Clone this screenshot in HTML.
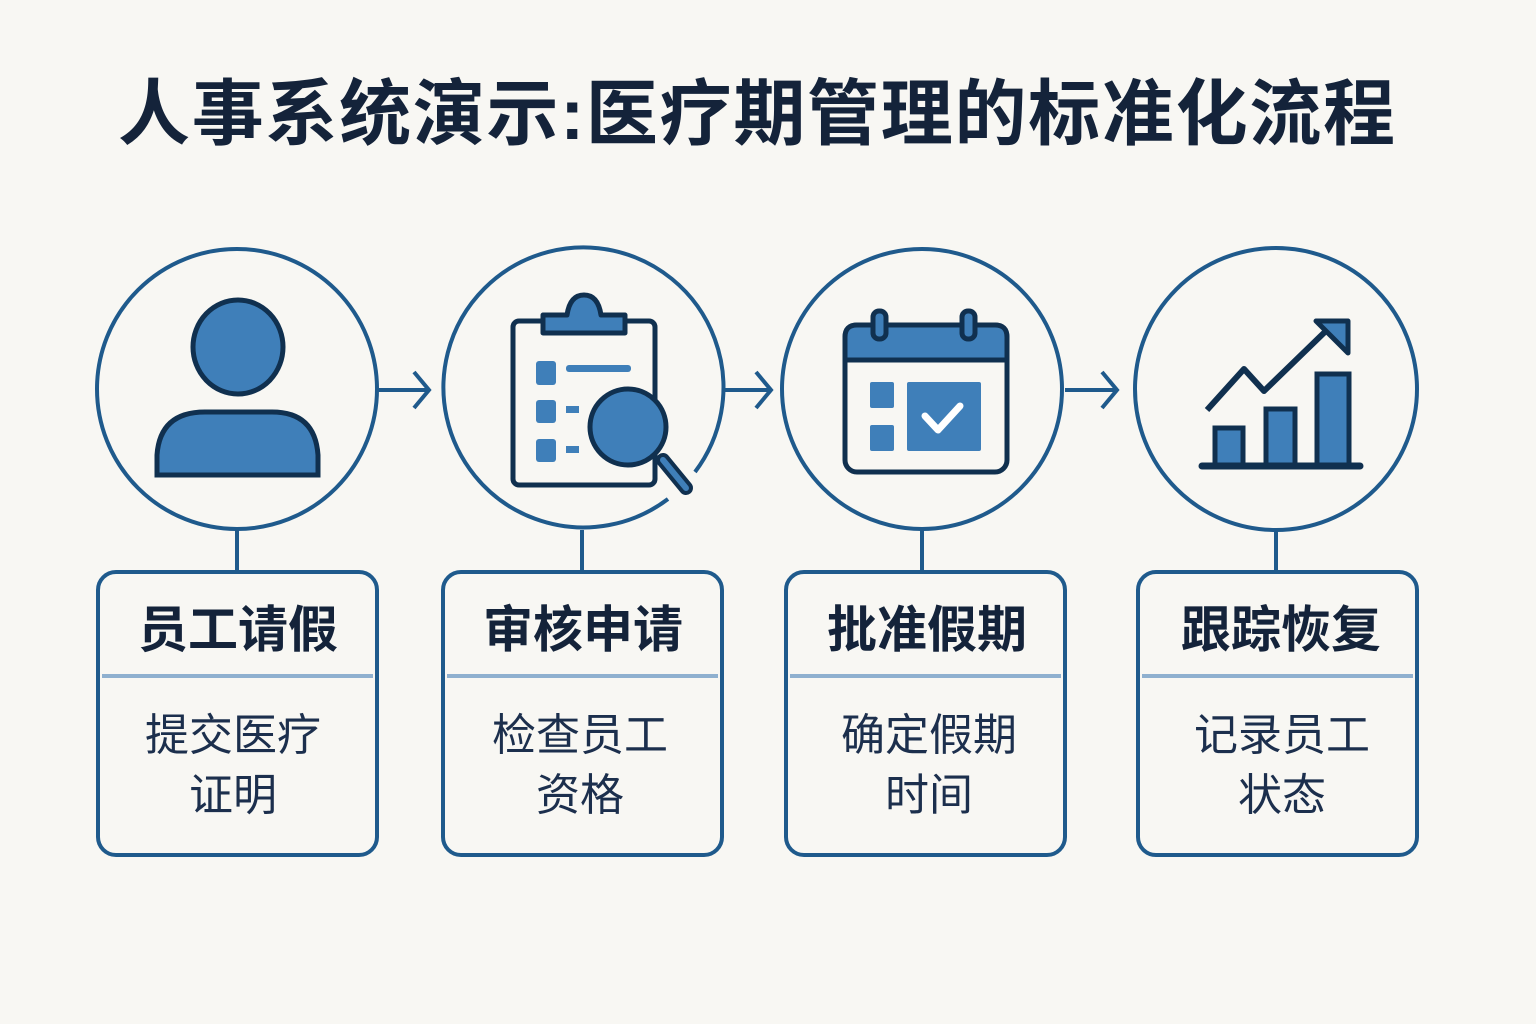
<!DOCTYPE html>
<html><head><meta charset="utf-8"><style>
html,body{margin:0;padding:0;background:#f8f7f3;}
svg{display:block;}
text{font-family:"Liberation Sans","Noto Sans CJK SC",sans-serif;}
</style></head><body>
<svg width="1536" height="1024" viewBox="0 0 1536 1024" xmlns="http://www.w3.org/2000/svg">
<rect width="1536" height="1024" fill="#f8f7f3"/>
<text x="118" y="139" font-size="72" font-weight="bold" fill="#14233a" textLength="1277" lengthAdjust="spacing">人事系统演示:医疗期管理的标准化流程</text>

<g fill="none" stroke="#1f5a8c" stroke-width="4">
<circle cx="237" cy="389" r="140"/>
<path d="M668 499 A140 140 0 1 1 695 472"/>
<circle cx="922" cy="389" r="140"/>
<circle cx="1276" cy="389" r="141"/>
<line x1="237" y1="530" x2="237" y2="572"/>
<line x1="582" y1="530" x2="582" y2="572"/>
<line x1="922" y1="530" x2="922" y2="572"/>
<line x1="1276" y1="530" x2="1276" y2="572"/>
<path d="M378 390 H428 M414 372 L429 390 L414 408"/>
<path d="M722 390 H770 M756 372 L771 390 L756 408"/>
<path d="M1065 390 H1116 M1102 372 L1117 390 L1102 408"/>
</g>

<!-- person -->
<g fill="#3f7fb9" stroke="#10304f" stroke-width="5">
<ellipse cx="238" cy="347" rx="45" ry="47"/>
<path d="M157 475 V455 Q160 412 205 412 H272 Q315 412 318 455 V475 Z"/>
</g>

<!-- clipboard -->
<g stroke="#10304f" stroke-width="5" stroke-linejoin="round">
<rect x="513" y="321" width="142" height="164" rx="6" fill="#f8f7f3"/>
<path d="M543 333 V315 H567 Q570 295 584 295 Q598 295 601 315 H625 V333 Z" fill="#3f7fb9"/>
</g>
<g fill="#3f7fb9">
<rect x="536" y="361" width="20" height="24" rx="3"/>
<rect x="536" y="400" width="20" height="23" rx="3"/>
<rect x="536" y="439" width="20" height="23" rx="3"/>
<rect x="566" y="365" width="65" height="7" rx="3"/>
<rect x="566" y="406" width="13" height="7"/>
<rect x="566" y="446" width="13" height="7"/>
</g>
<g stroke="#10304f" stroke-width="5">
<line x1="663" y1="460" x2="686" y2="488" stroke-width="14" stroke-linecap="round"/>
<line x1="663" y1="460" x2="686" y2="488" stroke="#3f7fb9" stroke-width="6" stroke-linecap="round"/>
<circle cx="628" cy="427" r="38" fill="#3f7fb9"/>
</g>

<!-- calendar -->
<g stroke="#10304f" stroke-width="5">
<rect x="845" y="325" width="162" height="147" rx="12" fill="#f8f7f3"/>
<path d="M845 360 V337 Q845 325 857 325 H995 Q1007 325 1007 337 V360 Z" fill="#3f7fb9"/>
<rect x="873" y="311" width="13" height="28" rx="6" fill="#3f7fb9"/>
<rect x="962" y="311" width="13" height="28" rx="6" fill="#3f7fb9"/>
</g>
<g fill="#3f7fb9">
<rect x="870" y="382" width="24" height="26" rx="2"/>
<rect x="870" y="425" width="24" height="26" rx="2"/>
<rect x="907" y="382" width="74" height="69" rx="2"/>
</g>
<path d="M925 416 L938 430 L960 406" fill="none" stroke="#fff" stroke-width="7" stroke-linecap="round" stroke-linejoin="round"/>

<!-- chart -->
<g stroke="#10304f" stroke-width="5" fill="#3f7fb9">
<rect x="1215" y="428" width="28" height="38"/>
<rect x="1266" y="409" width="29" height="57"/>
<rect x="1317" y="374" width="32" height="92"/>
<line x1="1202" y1="466" x2="1360" y2="466" stroke-width="7" stroke-linecap="round"/>
<polyline points="1207,410 1244,369 1264,391 1330,327" fill="none" stroke-width="6" stroke-linejoin="round"/>
<path d="M1316 321 H1348 V353 Z" stroke-linejoin="round"/>
</g>

<!-- boxes -->
<g fill="none" stroke="#1f5a8c" stroke-width="4">
<rect x="98" y="572" width="279" height="283" rx="18"/>
<rect x="443" y="572" width="279" height="283" rx="18"/>
<rect x="786" y="572" width="279" height="283" rx="18"/>
<rect x="1138" y="572" width="279" height="283" rx="18"/>
</g>
<g stroke="#8fb0cf" stroke-width="4">
<line x1="102" y1="676" x2="373" y2="676"/>
<line x1="447" y1="676" x2="718" y2="676"/>
<line x1="790" y1="676" x2="1061" y2="676"/>
<line x1="1142" y1="676" x2="1413" y2="676"/>
</g>
<g font-size="50" font-weight="bold" fill="#14233a" text-anchor="middle">
<text x="238" y="647">员工请假</text>
<text x="583" y="647">审核申请</text>
<text x="927" y="647">批准假期</text>
<text x="1281" y="647">跟踪恢复</text>
</g>
<g font-size="44" fill="#1c2f4d" text-anchor="middle">
<text x="233" y="750">提交医疗</text>
<text x="233" y="810">证明</text>
<text x="580" y="750">检查员工</text>
<text x="580" y="810">资格</text>
<text x="929" y="750">确定假期</text>
<text x="929" y="810">时间</text>
<text x="1282" y="750">记录员工</text>
<text x="1282" y="810">状态</text>
</g>
</svg>
</body></html>
